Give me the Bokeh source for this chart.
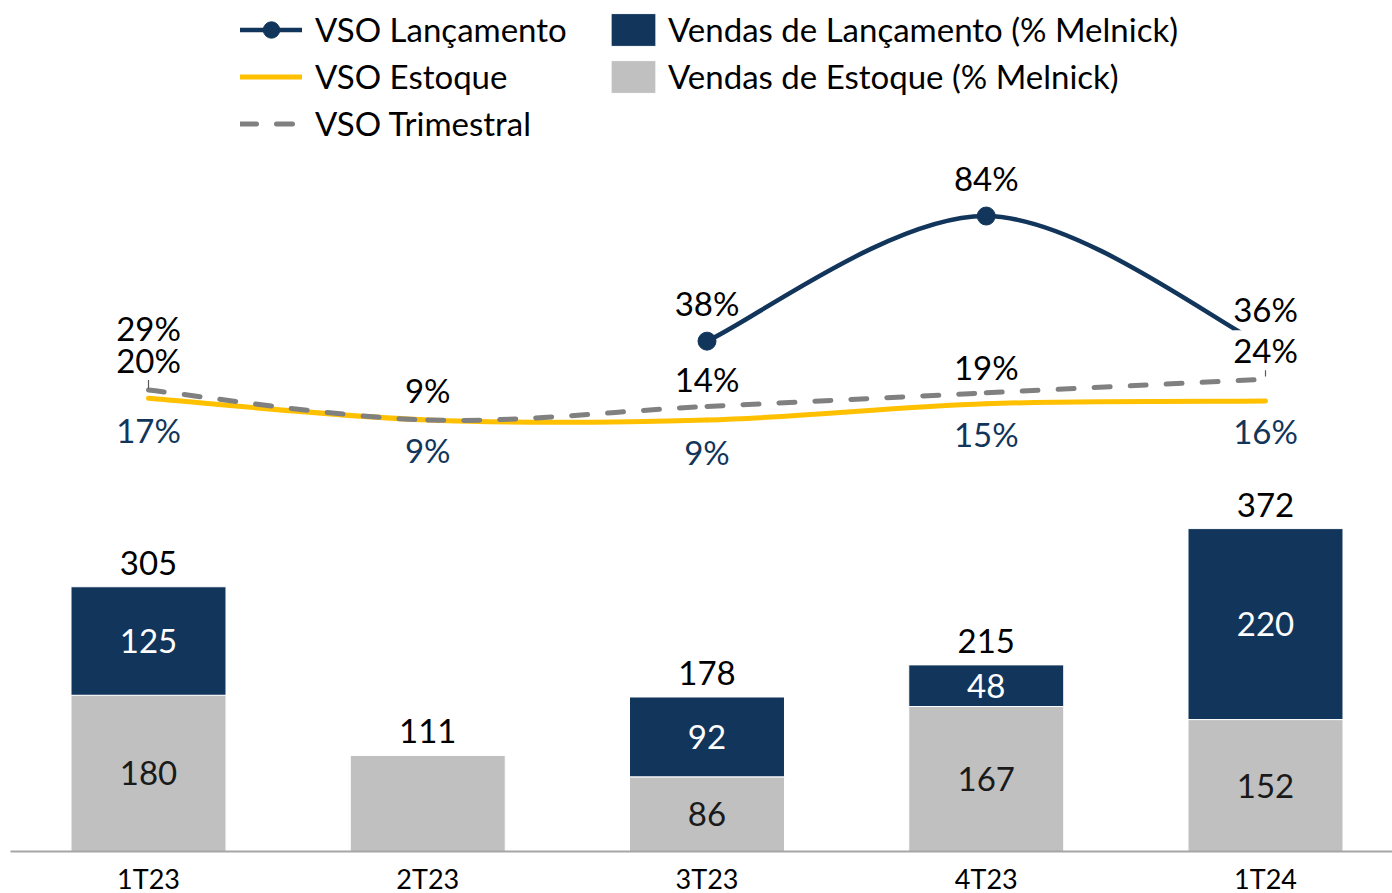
from bokeh.plotting import figure
from bokeh.models import (Range1d, ColumnDataSource, Legend, LegendItem,
                          FixedTicker, CustomJSTickFormatter)
from bokeh.core.properties import value
from bokeh.embed import file_html
from bokeh.resources import INLINE

# ---------------- data ----------------
quarters = ["1T23", "2T23", "3T23", "4T23", "1T24"]
vendas_estoque = [180, 111, 86, 167, 152]
vendas_lancamento = [125, 0, 92, 48, 220]
vso_lancamento = [29, None, 38, 84, 36]
vso_estoque = [17, 9, 9, 15, 16]
vso_trimestral = [20, 9, 14, 19, 24]

# ---------------- style ----------------
NAVY = "#12355B"
GRAY_BAR = "#C0C0C0"
YELLOW = "#FFC000"
GRAY_LINE = "#808080"
FONT = "Lato"
FS = "33px"

FRAME_H = 843
FRAME_W = 1382
XPX = 279.25          # pixels per category step
X0 = -138 / XPX       # left edge of the frame in category units
BAR_PX = 0.868        # pixels per sales unit
PCT_PX = 2.72         # pixels per percentage point
PCT_ZERO = 436        # distance of 0% from the frame top

x = list(range(len(quarters)))
totals = [a + b for a, b in zip(vendas_estoque, vendas_lancamento)]

p = figure(frame_width=FRAME_W, frame_height=FRAME_H, output_backend="svg",
           toolbar_location=None, y_axis_location=None,
           x_range=Range1d(X0, X0 + FRAME_W / XPX),
           y_range=Range1d(0, FRAME_H / BAR_PX),
           min_border_left=10, min_border_right=0, min_border_top=8, min_border_bottom=0)
p.extra_y_ranges = {"pct": Range1d(-(FRAME_H - PCT_ZERO) / PCT_PX, PCT_ZERO / PCT_PX)}
p.grid.visible = False
p.outline_line_color = None
p.background_fill_color = "white"
p.border_fill_color = "white"

# x axis
p.xaxis.ticker = FixedTicker(ticks=x)
p.xaxis.formatter = CustomJSTickFormatter(args=dict(labels=quarters),
                                          code="return labels[Math.round(tick)] || ''")
p.xaxis.major_tick_line_color = None
p.xaxis.minor_tick_line_color = None
p.xaxis.axis_line_color = "#A6A6A6"
p.xaxis.axis_line_width = 2
p.xaxis.major_label_text_font = FONT
p.xaxis.major_label_text_font_size = "27px"
p.xaxis.major_label_text_color = "#000000"
p.xaxis.major_label_standoff = 4

# ---------------- bars ----------------
src = ColumnDataSource(dict(x=x, est=vendas_estoque, lan=vendas_lancamento,
                            top=totals))
BW = 0.555
r_est = p.vbar(x="x", width=BW, bottom=0, top="est", source=src,
               fill_color=GRAY_BAR, line_color="white", line_width=1)
r_lan = p.vbar(x="x", width=BW, bottom="est", top="top", source=src,
               fill_color=NAVY, line_color="white", line_width=1)

# bar labels
tot_src = ColumnDataSource(dict(x=x, y=totals, t=[str(v) for v in totals]))
p.text(x="x", y="y", text="t", source=tot_src, y_offset=-24,
       text_align="center", text_baseline="middle",
       text_font=value(FONT), text_font_size=FS, text_color="#000000")

xs_e, ys_e, ts_e = [], [], []
xs_l, ys_l, ts_l = [], [], []
for i, (e, l) in enumerate(zip(vendas_estoque, vendas_lancamento)):
    if l:
        xs_e.append(i); ys_e.append(e / 2); ts_e.append(str(e))
        xs_l.append(i); ys_l.append(e + l / 2); ts_l.append(str(l))
p.text(x=xs_e, y=ys_e, text=ts_e, text_align="center", text_baseline="middle",
       text_font=value(FONT), text_font_size=FS, text_color="#1A1A1A")
p.text(x=xs_l, y=ys_l, text=ts_l, text_align="center", text_baseline="middle",
       text_font=value(FONT), text_font_size=FS, text_color="white")

# ---------------- smooth lines (bezier through data points) ----------------
def bezier_segments(xv, yv):
    runs, cur = [], []
    for xi, yi in zip(xv, yv):
        if yi is None:
            if cur:
                runs.append(cur)
            cur = []
        else:
            cur.append((xi, yi))
    if cur:
        runs.append(cur)
    segs = dict(x0=[], y0=[], x1=[], y1=[], cx0=[], cy0=[], cx1=[], cy1=[])
    for run in runs:
        n = len(run)
        for i in range(n - 1):
            p0 = run[i - 1] if i > 0 else run[i]
            p1 = run[i]
            p2 = run[i + 1]
            p3 = run[i + 2] if i + 2 < n else run[i + 1]
            segs["x0"].append(p1[0]); segs["y0"].append(p1[1])
            segs["x1"].append(p2[0]); segs["y1"].append(p2[1])
            segs["cx0"].append(p1[0] + (p2[0] - p0[0]) / 6)
            segs["cy0"].append(p1[1] + (p2[1] - p0[1]) / 6)
            segs["cx1"].append(p2[0] - (p3[0] - p1[0]) / 6)
            segs["cy1"].append(p2[1] - (p3[1] - p1[1]) / 6)
    return segs

bz = dict(x0="x0", y0="y0", x1="x1", y1="y1", cx0="cx0", cy0="cy0",
          cx1="cx1", cy1="cy1", y_range_name="pct")
r_est_line = p.bezier(source=ColumnDataSource(bezier_segments(x, vso_estoque)), **bz,
                      line_color=YELLOW, line_width=5, line_cap="round")
r_tri_line = p.bezier(source=ColumnDataSource(bezier_segments(x, vso_trimestral)), **bz,
                      line_color=GRAY_LINE, line_width=5, line_dash="16 20",
                      line_cap="round")
r_lan_line = p.bezier(source=ColumnDataSource(bezier_segments(x, vso_lancamento)), **bz,
                      line_color=NAVY, line_width=4.5, line_cap="round")
lx = [i for i, v in enumerate(vso_lancamento) if v is not None]
ly = [v for v in vso_lancamento if v is not None]
r_lan_pts = p.scatter(lx, ly, y_range_name="pct", size=18, marker="circle",
                      fill_color=NAVY, line_color=NAVY)

# leader lines for moved labels
p.segment(x0=[0, 4], y0=[vso_trimestral[0] + 0.6, vso_trimestral[4] + 1.0],
          x1=[0, 4], y1=[vso_trimestral[0] + 4.3, vso_trimestral[4] + 3.6],
          y_range_name="pct", line_color="#595959", line_width=1.2)

# ---------------- percentage labels ----------------
tri_offsets = [-30, -30, -27, -26, -29]
p.text(x=x, y=vso_trimestral, text=[f"{v}%" for v in vso_trimestral],
       y_range_name="pct", y_offset=tri_offsets,
       text_align="center", text_baseline="middle",
       text_font=value(FONT), text_font_size=FS, text_color="#000000",
       background_fill_color="white", padding=0)
p.text(x=lx, y=ly, text=[f"{v}%" for v in ly], y_range_name="pct", y_offset=-38,
       text_align="center", text_baseline="middle",
       text_font=value(FONT), text_font_size=FS, text_color="#000000")
est_offsets = [32, 30, 32, 30, 30]
p.text(x=x, y=vso_estoque, text=[f"{v}%" for v in vso_estoque],
       y_range_name="pct", y_offset=est_offsets,
       text_align="center", text_baseline="middle",
       text_font=value(FONT), text_font_size=FS, text_color=NAVY)

# ---------------- legends ----------------
leg1 = Legend(items=[LegendItem(label="VSO Lançamento", renderers=[r_lan_line, r_lan_pts]),
                     LegendItem(label="VSO Estoque", renderers=[r_est_line]),
                     LegendItem(label="VSO Trimestral", renderers=[r_tri_line])],
              location=(230, FRAME_H - 135.5), orientation="vertical")
leg2 = Legend(items=[LegendItem(label="Vendas de Lançamento (% Melnick)", renderers=[r_lan]),
                     LegendItem(label="Vendas de Estoque (% Melnick)", renderers=[r_est])],
              location=(595, FRAME_H - 88.5), orientation="vertical")
for lg, gw, so in ((leg1, 62, 13), (leg2, 56, 7)):
    lg.glyph_width = gw
    lg.glyph_height = 41
    lg.label_height = 41
    lg.spacing = 6
    lg.label_standoff = so
    lg.padding = 0
    lg.margin = 0
    lg.border_line_color = None
    lg.background_fill_alpha = 0
    lg.label_text_font = FONT
    lg.label_text_font_size = FS
    lg.label_text_color = "#000000"
    lg.label_text_baseline = "middle"
    p.add_layout(lg, "center")

open("out.html", "w").write(file_html(p, INLINE))
